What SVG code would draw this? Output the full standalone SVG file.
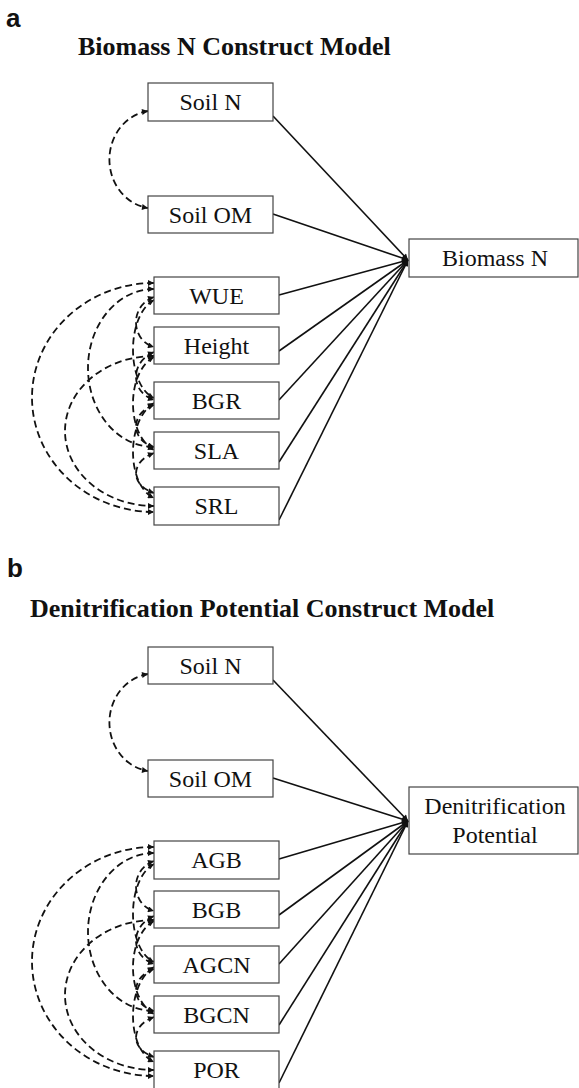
<svg xmlns="http://www.w3.org/2000/svg" width="579" height="1088" viewBox="0 0 579 1088">
<defs>
<style>
.box{fill:#fff;stroke:#444;stroke-width:1.2}
.lbl{font-family:"Liberation Serif","Times New Roman",serif;font-size:24px;fill:#111;text-anchor:middle}
.title{font-family:"Liberation Serif","Times New Roman",serif;font-size:26px;font-weight:bold;fill:#111}
.panel{font-family:"Liberation Sans",Arial,sans-serif;font-size:26px;font-weight:bold;fill:#111}
.solid{fill:none;stroke:#111;stroke-width:1.6;marker-end:url(#ahs)}
.dash{fill:none;stroke:#111;stroke-width:1.8;stroke-dasharray:7 4;marker-start:url(#ahd);marker-end:url(#ahd)}
</style>
<marker id="ahs" viewBox="0 0 10 10" refX="10" refY="5" markerWidth="8" markerHeight="6" markerUnits="userSpaceOnUse" orient="auto"><path d="M0,0 L10,5 L0,10 z" fill="#111"/></marker>
<marker id="ahd" viewBox="0 0 10 10" refX="10" refY="5" markerWidth="8" markerHeight="6" markerUnits="userSpaceOnUse" orient="auto-start-reverse"><path d="M0,0 L10,5 L0,10 z" fill="#111"/></marker>
</defs>
<rect width="579" height="1088" fill="#fff"/>

<text class="panel" x="6" y="27">a</text>
<text class="title" x="78" y="55">Biomass N Construct Model</text>
<text class="panel" x="7" y="577">b</text>
<text class="title" x="30" y="617">Denitrification Potential Construct Model</text>

<g id="connectors-a">
<path class="solid" d="M273 116 L408 260"/>
<path class="solid" d="M273 214 L408 260"/>
<path class="solid" d="M279 295 L408 260"/>
<path class="solid" d="M279 351 L408 260"/>
<path class="solid" d="M279 400 L408 260"/>
<path class="solid" d="M279 462 L408 260"/>
<path class="solid" d="M279 520 L408 260"/>
<g id="dashed-a">
<path class="dash" d="M148 111 A45 49 0 0 0 148 208"/>
<path class="dash" d="M154 283 A122 114.5 0 0 0 154 512"/>
<path class="dash" d="M154 289 A66 79 0 0 0 154 447"/>
<path class="dash" d="M154 356 A89 75 0 0 0 154 506"/>
<path class="dash" d="M154 297 C130 305 130 340 154 347"/>
<path class="dash" d="M154 352 C130 362 130 392 154 400"/>
<path class="dash" d="M154 405 C130 413 130 440 154 447"/>
<path class="dash" d="M154 453 C130 462 130 485 154 493"/>
<path class="dash" d="M154 300 C126 315 126 385 154 398"/>
<path class="dash" d="M154 357 C126 372 126 435 154 450"/>
<path class="dash" d="M154 403 C126 420 126 485 154 498"/>
</g>
</g>

<g id="connectors-b">
<path class="solid" d="M273 680 L408 821"/>
<path class="solid" d="M273 778 L408 821"/>
<path class="solid" d="M279 859 L408 821"/>
<path class="solid" d="M279 915 L408 821"/>
<path class="solid" d="M279 964 L408 821"/>
<path class="solid" d="M279 1025 L408 821"/>
<path class="solid" d="M279 1083 L408 821"/>
<g transform="translate(0,564)">
<path class="dash" d="M148 110 A45 49 0 0 0 148 207"/>
<path class="dash" d="M154 283 A122 114.5 0 0 0 154 512"/>
<path class="dash" d="M154 289 A66 79 0 0 0 154 447"/>
<path class="dash" d="M154 356 A89 75 0 0 0 154 506"/>
<path class="dash" d="M154 297 C130 305 130 340 154 347"/>
<path class="dash" d="M154 352 C130 362 130 392 154 400"/>
<path class="dash" d="M154 405 C130 413 130 440 154 447"/>
<path class="dash" d="M154 453 C130 462 130 485 154 493"/>
<path class="dash" d="M154 300 C126 315 126 385 154 398"/>
<path class="dash" d="M154 357 C126 372 126 435 154 450"/>
<path class="dash" d="M154 403 C126 420 126 485 154 498"/>
</g>
</g>

<g id="a-soiln"><rect class="box" x="148" y="83" width="125" height="38"/><text class="lbl" x="210.5" y="110">Soil N</text></g>
<g id="a-soilom"><rect class="box" x="148" y="196" width="125" height="37"/><text class="lbl" x="210.5" y="223">Soil OM</text></g>
<g id="a-biomassn"><rect class="box" x="409" y="239" width="169" height="38"/><text class="lbl" x="495" y="266">Biomass N</text></g>
<g id="a-wue"><rect class="box" x="154" y="277" width="125" height="37"/><text class="lbl" x="216.5" y="304">WUE</text></g>
<g id="a-height"><rect class="box" x="154" y="327" width="125" height="37"/><text class="lbl" x="216.5" y="354">Height</text></g>
<g id="a-bgr"><rect class="box" x="154" y="382" width="125" height="37"/><text class="lbl" x="216.5" y="409">BGR</text></g>
<g id="a-sla"><rect class="box" x="154" y="432" width="125" height="37"/><text class="lbl" x="216.5" y="459">SLA</text></g>
<g id="a-srl"><rect class="box" x="154" y="487" width="125" height="38"/><text class="lbl" x="216.5" y="514">SRL</text></g>

<g id="b-soiln"><rect class="box" x="148" y="647" width="125" height="37"/><text class="lbl" x="210.5" y="674">Soil N</text></g>
<g id="b-soilom"><rect class="box" x="148" y="760" width="125" height="37"/><text class="lbl" x="210.5" y="787">Soil OM</text></g>
<g id="b-denit"><rect class="box" x="409" y="787" width="169" height="67"/><text class="lbl" x="495" y="814">Denitrification</text><text class="lbl" x="495" y="843">Potential</text></g>
<g id="b-agb"><rect class="box" x="154" y="841" width="125" height="38"/><text class="lbl" x="216.5" y="868">AGB</text></g>
<g id="b-bgb"><rect class="box" x="154" y="891" width="125" height="37"/><text class="lbl" x="216.5" y="918">BGB</text></g>
<g id="b-agcn"><rect class="box" x="154" y="946" width="125" height="37"/><text class="lbl" x="216.5" y="973">AGCN</text></g>
<g id="b-bgcn"><rect class="box" x="154" y="996" width="125" height="37"/><text class="lbl" x="216.5" y="1023">BGCN</text></g>
<g id="b-por"><rect class="box" x="154" y="1051" width="125" height="38"/><text class="lbl" x="216.5" y="1078">POR</text></g>
</svg>
